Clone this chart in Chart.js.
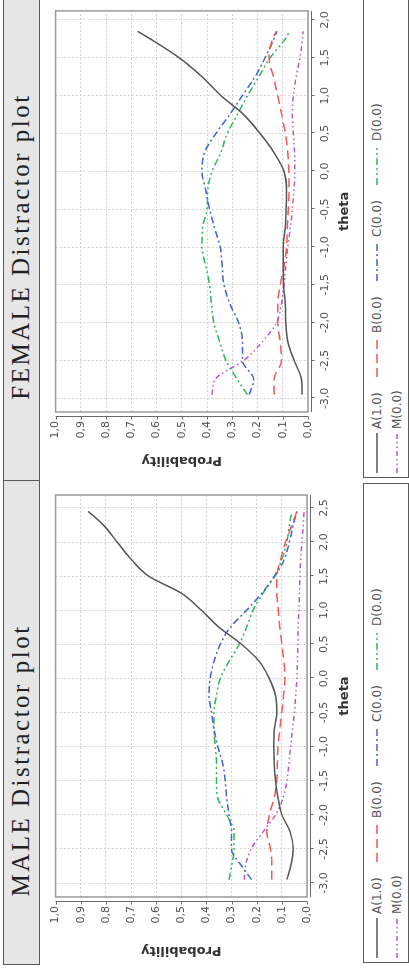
<!DOCTYPE html>
<html>
<head>
<meta charset="utf-8">
<script src="https://cdn.jsdelivr.net/npm/chart.js@4.4.0/dist/chart.umd.min.js"></script>
<style>
  html, body { margin: 0; padding: 0; background: #fff; }
  body { width: 409px; height: 973px; overflow: hidden; position: relative; }
  /* the figure is laid out landscape and turned a quarter left */
  #page { position: absolute; left: 0; top: 0; width: 973px; height: 409px;
          transform-origin: 0 0; transform: translateY(973px) rotate(-90deg); }
  .title { position: absolute; top: 3px; height: 37px; box-sizing: border-box;
           border: 1.5px solid #5a5a5a; background: #e6e6e6; color: #222;
           font-family: "Liberation Serif", serif; font-size: 25px; line-height: 33px;
           letter-spacing: 2.5px; text-align: center; white-space: nowrap; }
  .chart { position: absolute; top: 40px; }
  .legend { position: absolute; top: 363px; height: 46px; box-sizing: border-box;
            border: 1.5px solid #5a5a5a; padding: 3px 0 0 4px;
            font-family: "DejaVu Sans", sans-serif; font-size: 12px; color: #555; }
  .legend .items { width: 400px; display: flex; flex-wrap: wrap; }
  .legend .item { width: 96px; height: 20px; display: flex; align-items: center; }
  .legend svg { margin-right: 4px; }
</style>
</head>
<body>
<div id="page">
  <div class="title" style="left:8px; width:485px; padding-right:76px;">MALE Distractor plot</div>
  <canvas class="chart" id="maleChart" width="490" height="322" style="left:0px;"></canvas>
  <div class="legend" id="maleLegend" style="left:10px; width:480px;"></div>

  <div class="title" style="left:492px; width:485px; padding-right:16px;">FEMALE Distractor plot</div>
  <canvas class="chart" id="femaleChart" width="483" height="322" style="left:490px;"></canvas>
  <div class="legend" id="femaleLegend" style="left:495px; width:480px;"></div>
</div>

<script>
const seriesNames = ['A(1.0)', 'B(0.0)', 'C(0.0)', 'D(0.0)', 'M(0.0)'];
const colors = ['#555555', '#ef5a5a', '#4464c8', '#30b558', '#b656c8'];
const dashes = [[], [9, 5], [7, 3, 2, 3], [7, 3, 2, 3, 2, 3], [5, 3, 1.5, 3, 1.5, 3]];

const probTicks = [0, 0.1, 0.2, 0.3, 0.4, 0.5, 0.6, 0.7, 0.8, 0.9, 1.0];

// MALE
const maleTheta = [-2.95, -2.75, -2.5, -2.25, -2.0, -1.75, -1.5, -1.25, -1.0, -0.75, -0.5, -0.25,
                   0, 0.25, 0.5, 0.75, 1.0, 1.25, 1.5, 1.75, 2.0, 2.25, 2.45];
const maleA = [0.08, 0.065, 0.055, 0.067, 0.10, 0.115, 0.125, 0.13, 0.132, 0.13, 0.12, 0.125,
               0.15, 0.19, 0.26, 0.35, 0.42, 0.50, 0.63, 0.70, 0.755, 0.81, 0.87];
const maleB = [0.14, 0.14, 0.145, 0.16, 0.15, 0.13, 0.12, 0.118, 0.115, 0.108, 0.10, 0.093,
               0.088, 0.092, 0.10, 0.108, 0.114, 0.12, 0.12, 0.105, 0.085, 0.06, 0.04];
const maleC = [0.22, 0.26, 0.30, 0.30, 0.31, 0.32, 0.325, 0.335, 0.355, 0.37, 0.38, 0.39,
               0.385, 0.37, 0.345, 0.305, 0.24, 0.18, 0.128, 0.09, 0.07, 0.055, 0.04];
const maleD = [0.31, 0.30, 0.29, 0.29, 0.32, 0.355, 0.36, 0.36, 0.365, 0.37, 0.37, 0.36,
               0.345, 0.31, 0.27, 0.24, 0.215, 0.175, 0.13, 0.10, 0.08, 0.07, 0.06];
const maleM = [0.25, 0.245, 0.222, 0.175, 0.125, 0.095, 0.08, 0.072, 0.065, 0.058, 0.05, 0.045,
               0.04, 0.038, 0.036, 0.035, 0.032, 0.03, 0.028, 0.025, 0.02, 0.015, 0.012];
const maleThetaTicks = [-3.0, -2.5, -2.0, -1.5, -1.0, -0.5, 0, 0.5, 1.0, 1.5, 2.0, 2.5];

// FEMALE
const femaleTheta = [-2.95, -2.75, -2.5, -2.25, -2.0, -1.75, -1.5, -1.25, -1.0, -0.75, -0.5, -0.25,
                     0, 0.25, 0.5, 0.75, 1.0, 1.25, 1.5, 1.75, 1.85];
const femaleA = [0.024, 0.026, 0.055, 0.08, 0.088, 0.09, 0.097, 0.098, 0.098, 0.09, 0.087, 0.085,
                 0.095, 0.135, 0.19, 0.255, 0.345, 0.42, 0.51, 0.625, 0.675];
const femaleB = [0.134, 0.135, 0.105, 0.11, 0.12, 0.12, 0.11, 0.095, 0.085, 0.082, 0.078, 0.075,
                 0.076, 0.08, 0.09, 0.104, 0.12, 0.137, 0.155, 0.14, 0.125];
const femaleC = [0.233, 0.215, 0.26, 0.26, 0.275, 0.31, 0.333, 0.34, 0.348, 0.37, 0.39, 0.405,
                 0.42, 0.41, 0.365, 0.31, 0.26, 0.21, 0.17, 0.135, 0.123];
const femaleD = [0.24, 0.28, 0.325, 0.35, 0.373, 0.383, 0.39, 0.405, 0.42, 0.418, 0.40, 0.397,
                 0.38, 0.345, 0.32, 0.28, 0.24, 0.195, 0.15, 0.09, 0.073];
const femaleM = [0.38, 0.368, 0.255, 0.18, 0.125, 0.105, 0.095, 0.088, 0.08, 0.07, 0.062, 0.056,
                 0.052, 0.053, 0.058, 0.062, 0.058, 0.047, 0.032, 0.022, 0.02];
const femaleThetaTicks = [-3.0, -2.5, -2.0, -1.5, -1.0, -0.5, 0, 0.5, 1.0, 1.5, 2.0];

const fmt = v => v.toFixed(1).replace('.', ',');
const tickFont = { family: 'DejaVu Sans', size: 11 };
const titleFont = { family: 'DejaVu Sans', size: 13, weight: 'bold' };

// plot border plus the axis lines that sit a few pixels off it
const frame = {
  id: 'frame',
  afterDraw(chart) {
    const { ctx, chartArea: a, scales: { x, y } } = chart;
    ctx.save();
    ctx.strokeStyle = '#9a9a9a';
    ctx.lineWidth = 1.5;
    ctx.strokeRect(a.left, a.top, a.right - a.left, a.bottom - a.top);
    ctx.strokeStyle = '#6a6a6a';
    ctx.lineWidth = 1;
    ctx.beginPath();
    const yb = a.bottom + 3.5;
    ctx.moveTo(a.left, yb); ctx.lineTo(a.right, yb);
    x.ticks.forEach(t => {
      const px = Math.round(x.getPixelForValue(t.value)) + 0.5;
      ctx.moveTo(px, yb); ctx.lineTo(px, yb + 3);
    });
    const xl = a.left - 4.5;
    ctx.moveTo(xl, a.top); ctx.lineTo(xl, a.bottom);
    y.ticks.forEach(t => {
      const py = Math.round(y.getPixelForValue(t.value)) + 0.5;
      ctx.moveTo(xl, py); ctx.lineTo(xl - 3, py);
    });
    ctx.stroke();
    ctx.restore();
  }
};

function makeChart(id, theta, series, xMin, xMax, thetaTicks, box) {
  return new Chart(document.getElementById(id), {
    type: 'line',
    data: {
      datasets: seriesNames.map((name, i) => ({
        label: name,
        data: theta.map((t, j) => ({ x: t, y: series[i][j] })),
        borderColor: colors[i],
        borderDash: dashes[i],
        borderWidth: 1.5,
        pointRadius: 0,
        cubicInterpolationMode: 'monotone',
        fill: false
      }))
    },
    options: {
      responsive: false,
      animation: false,
      layout: { padding: { left: 0, right: box.right, top: 14, bottom: 0 } },
      plugins: { legend: { display: false }, tooltip: { enabled: false } },
      scales: {
        x: {
          type: 'linear', min: xMin, max: xMax,
          afterBuildTicks: s => { s.ticks = thetaTicks.map(v => ({ value: v })); },
          afterFit: s => { s.height = box.xAxis; },
          ticks: { callback: v => fmt(v), padding: 11, maxRotation: 0, autoSkip: false,
                   color: '#555', font: tickFont },
          grid: { color: '#d2d2d2', drawTicks: false },
          border: { display: false, dash: [2, 2] },
          title: { display: true, text: 'theta', color: '#333', font: titleFont,
                   padding: { top: 0, bottom: 10 } }
        },
        y: {
          min: 0, max: 1,
          afterBuildTicks: s => { s.ticks = probTicks.map(v => ({ value: v })); },
          afterFit: s => { s.width = box.yAxis; },
          ticks: { callback: v => fmt(v), padding: 9, color: '#555', font: tickFont },
          grid: { color: '#d2d2d2', drawTicks: false },
          border: { display: false, dash: [2, 2] },
          title: { display: true, text: 'Probability', color: '#333', font: titleFont,
                   padding: { top: 15, bottom: 0 } }
        }
      }
    },
    plugins: [frame]
  });
}

function makeLegend(id) {
  const items = seriesNames.map((name, i) =>
    '<div class="item"><svg width="40" height="4"><line x1="0" y1="2" x2="40" y2="2" stroke="' +
    colors[i] + '" stroke-width="1.5" stroke-dasharray="' + (dashes[i].join(' ') || 'none') +
    '"/></svg><span>' + name + '</span></div>').join('');
  document.getElementById(id).innerHTML = '<div class="items">' + items + '</div>';
}

makeChart('maleChart', maleTheta, [maleA, maleB, maleC, maleD, maleM],
          -3.205, 2.69, maleThetaTicks, { right: 12, xAxis: 55, yAxis: 76 });
makeChart('femaleChart', femaleTheta, [femaleA, femaleB, femaleC, femaleD, femaleM],
          -3.18, 2.12, femaleThetaTicks, { right: 9, xAxis: 54, yAxis: 71 });
makeLegend('maleLegend');
makeLegend('femaleLegend');
</script>
</body>
</html>
